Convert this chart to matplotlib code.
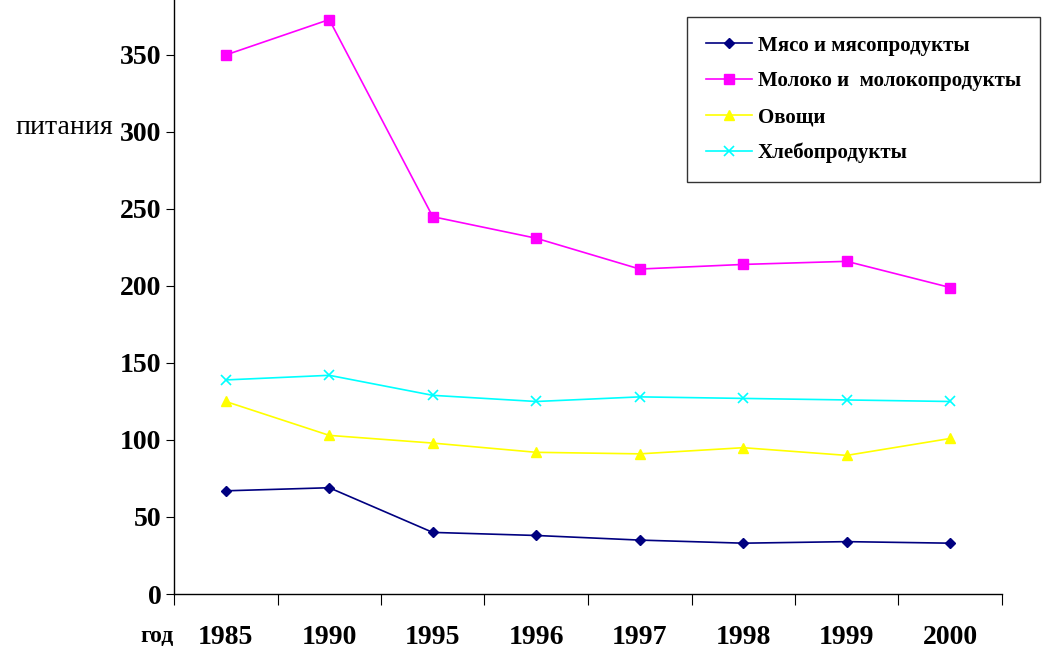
import numpy as np
import matplotlib.pyplot as plt
from matplotlib.ticker import FixedLocator

years = ['1985', '1990', '1995', '1996', '1997', '1998', '1999', '2000']
meat = [67, 69, 40, 38, 35, 33, 34, 33]
milk = [350, 373, 245, 231, 211, 214, 216, 199]
veg = [125, 103, 98, 92, 91, 95, 90, 101]
bread = [139, 142, 129, 125, 128, 127, 126, 125]

plt.rcParams['font.family'] = ['Liberation Serif', 'DejaVu Serif']

fig = plt.figure(figsize=(10.42, 6.48), dpi=100)
ax = fig.add_axes([174/1042, 54/648, 828/1042, 594/648])

x = np.arange(len(years))
ax.plot(x, meat, color='#000080', marker='D', markersize=5, lw=1.2, label='Мясо и мясопродукты')
ax.plot(x, milk, color='#FF00FF', marker='s', markersize=7, lw=1.2, label='Молоко и  молокопродукты')
ax.plot(x, veg, color='#FFFF00', marker='^', markersize=7, lw=1.2, label='Овощи')
ax.plot(x, bread, color='#00FFFF', marker='x', markersize=7, mew=1.2, lw=1.2, label='Хлебопродукты')

ax.set_xlim(-0.5, 7.5)
ax.set_ylim(0, 385.7)
ax.set_yticks(range(0, 351, 50))
ax.set_yticklabels([str(v) for v in range(0, 351, 50)], fontsize=20, fontweight='bold')
ax.set_xticks(x)
ax.set_xticklabels(years, fontsize=20, fontweight='bold')
ax.xaxis.set_minor_locator(FixedLocator(np.arange(-0.5, 8, 1)))
ax.tick_params(axis='x', which='major', length=0, pad=22)
ax.tick_params(axis='x', which='minor', length=8, direction='out', width=0.8)
ax.tick_params(axis='y', length=6, direction='out', width=0.8, pad=3)

for s in ['top', 'right']:
    ax.spines[s].set_visible(False)
for s in ['left', 'bottom']:
    ax.spines[s].set_linewidth(1.0)

fig.text(140/1042, 1/648, 'год', fontsize=17, fontweight='bold', ha='left', va='bottom')
fig.text(15/1042, 1 - 128/648, 'питания', fontsize=20, ha='left', va='center')

leg = ax.legend(loc='upper left', bbox_to_anchor=(687/1042, 1 - 17/648),
                bbox_transform=fig.transFigure, prop={'size': 15, 'weight': 'bold'},
                frameon=True, fancybox=False, edgecolor='black', handlelength=2.2,
                handletextpad=0.3, borderpad=0.9, labelspacing=0.75, borderaxespad=0)
leg.get_frame().set_linewidth(1.0)

fig.savefig('out.png', dpi=100)
